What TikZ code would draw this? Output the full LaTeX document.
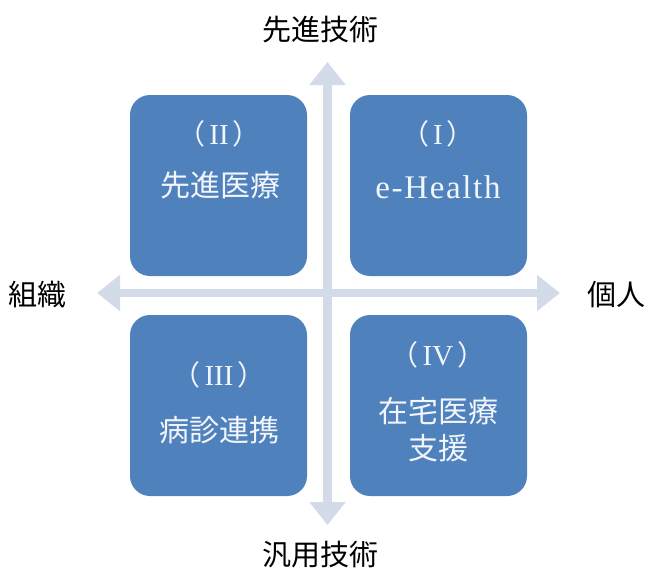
\documentclass[tikz,border=0pt]{standalone}
\usepackage{fontspec}
\setmainfont{Liberation Serif}
\newfontfamily\jp{Noto Sans CJK JP}
\usetikzlibrary{arrows.meta}
\definecolor{boxblue}{HTML}{4F81BD}
\definecolor{arrowgrey}{HTML}{D3DBE9}
\definecolor{boxtext}{HTML}{F2F5FA}
\tikzset{
  quad/.style={fill=boxblue, rounded corners=20pt, draw=none},
  axisarrow/.style={draw=arrowgrey, line width=8.5pt,
    {Triangle[width=35pt,length=23pt]}-{Triangle[width=35pt,length=23pt]}},
  boxlabel/.style={text=boxtext, align=center, inner sep=0pt},
  axislabel/.style={text=black, font=\jp\fontsize{29}{32}\selectfont, inner sep=0pt}
}
\newcommand{\jpb}{\jp\fontsize{30}{37}\selectfont}
\newcommand{\numf}[1]{{\jp\fontsize{28}{30}\selectfont （}\kern4pt{\fontsize{29}{30}\selectfont #1}\kern4pt{\jp\fontsize{28}{30}\selectfont ）}}
\begin{document}
\begin{tikzpicture}[x=1pt,y=-1pt]
\useasboundingbox (0,0) rectangle (646,570);
% quadrant boxes
\path[quad] (130,95) rectangle (307,276);
\path[quad] (350,95) rectangle (527,276);
\path[quad] (130,315) rectangle (307,496);
\path[quad] (350,315) rectangle (527,496);
% axes
\coordinate (top) at (327.5,62);
\coordinate (bottom) at (327.5,525);
\coordinate (left) at (97,293);
\coordinate (right) at (560,293);
\draw[axisarrow] (bottom) -- (top);
\draw[axisarrow] (left) -- (right);
% box texts
\node[boxlabel] (n2) at (219,134) {\numf{II}};
\node[boxlabel, font=\jpb] (t2) at (220,185) {先進医療};
\node[boxlabel] (n1) at (438,134) {\numf{I}};
\node[boxlabel, font=\fontsize{33}{36}\selectfont\addfontfeature{LetterSpace=5}] (t1) at (438,187) {e-Health};
\node[boxlabel] (n3) at (219,375) {\numf{III}};
\node[boxlabel, font=\jpb] (t3) at (219,430) {病診連携};
\node[boxlabel] (n4) at (438,355) {\numf{IV}};
\node[boxlabel, font=\jpb] (t4) at (438,430) {在宅医療\\支援};
% axis labels
\node[axislabel] (lt) at (320,30) {先進技術};
\node[axislabel] (lb) at (320,555) {汎用技術};
\node[axislabel] (ll) at (38,295) {組織};
\node[axislabel] (lr) at (616,295) {個人};
\end{tikzpicture}
\end{document}
